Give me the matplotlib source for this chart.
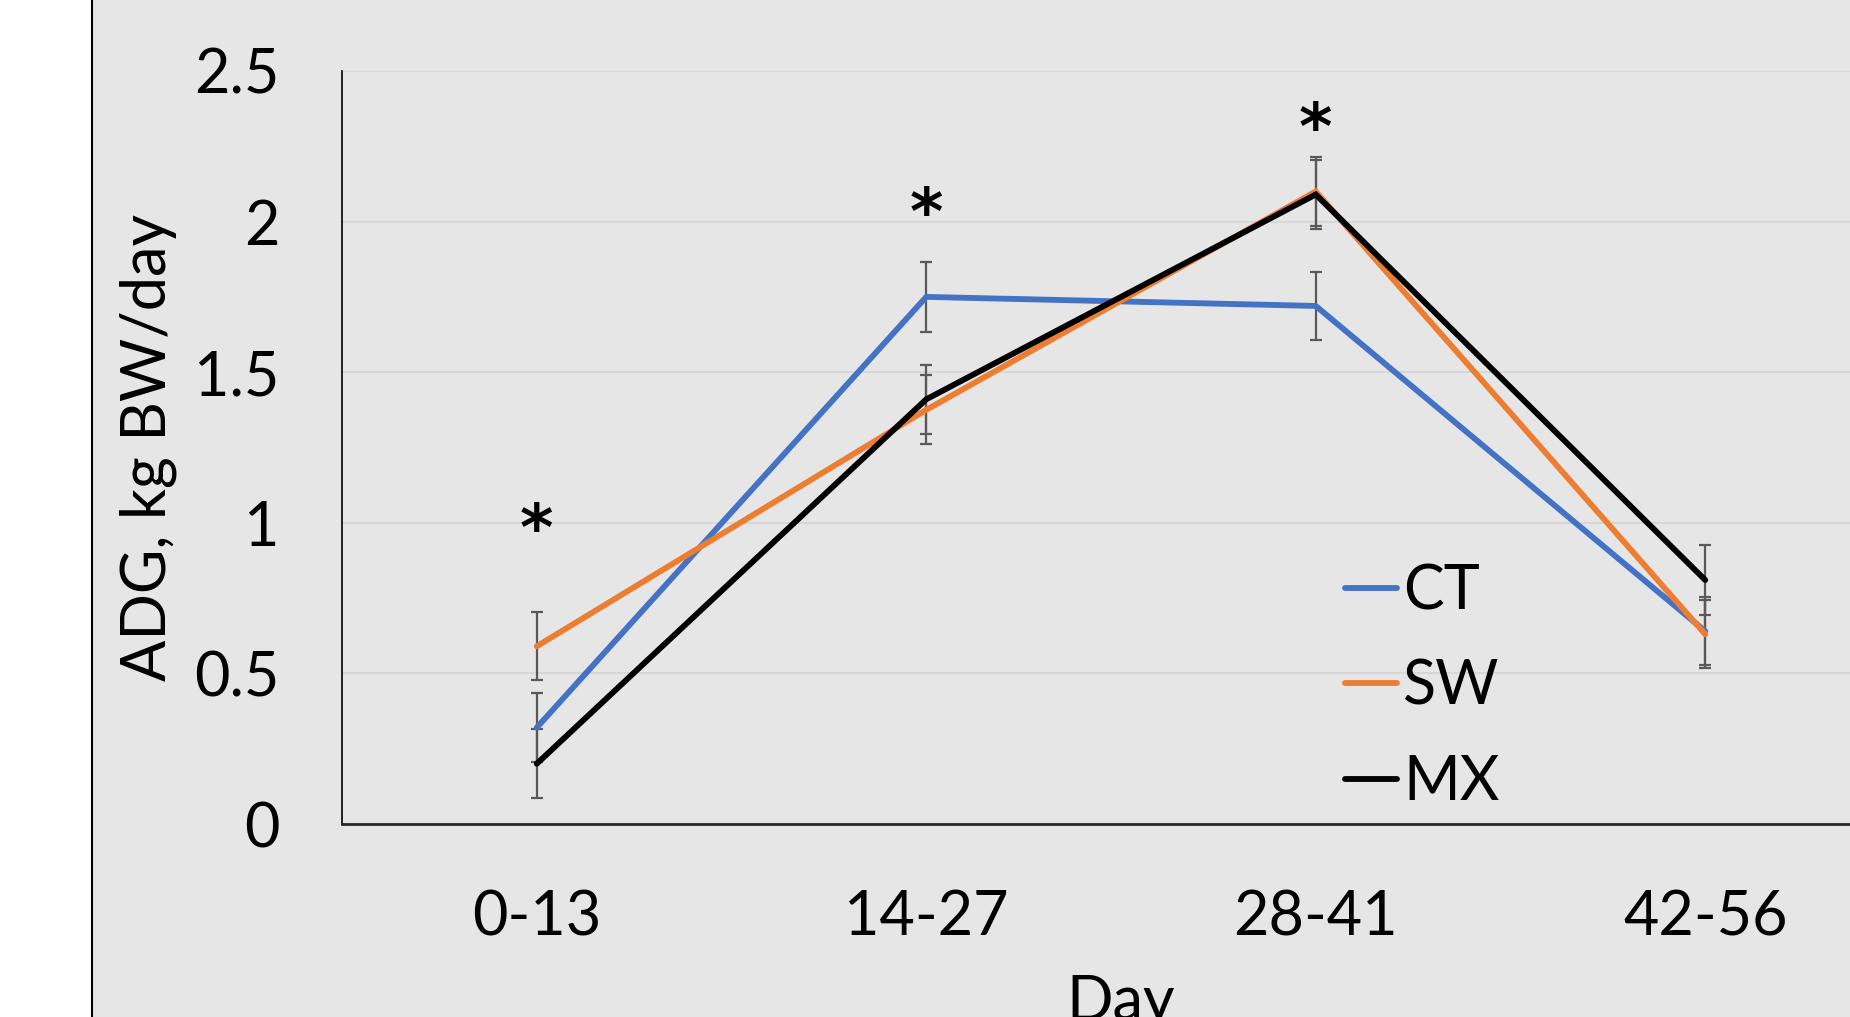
import numpy as np
import matplotlib
matplotlib.use("Agg")
import matplotlib.pyplot as plt
from matplotlib.patches import Rectangle
from matplotlib.lines import Line2D

days = ['0-13', '14-27', '28-41', '42-56']
ct = [0.32, 1.75, 1.72, 0.64]
sw = [0.59, 1.375, 2.10, 0.63]
mx = [0.20, 1.41, 2.09, 0.81]
ct_err = [0.115, 0.115, 0.113, 0.113]
sw_err = [0.113, 0.115, 0.113, 0.113]
mx_err = [0.115, 0.115, 0.113, 0.115]

star_days = ['0-13', '14-27', '28-41']
star_y = [0.97, 2.02, 2.30]

BG = '#E6E6E6'
plt.rcParams['font.family'] = ['Lato', 'DejaVu Sans']

fig = plt.figure(figsize=(18.5, 10.17), dpi=100, facecolor='white')
fig.patches.append(Rectangle((93 / 1850, 0), 1, 1, transform=fig.transFigure,
                             facecolor=BG, edgecolor='none', zorder=-10))
fig.lines.append(Line2D([92 / 1850, 92 / 1850], [0, 1], transform=fig.transFigure,
                        color='black', lw=1.5, zorder=-9))

ax = fig.add_axes([342 / 1850, 1 - 824 / 1017, 1558 / 1850, 753 / 1017])
ax.set_facecolor('none')

series = [('CT', ct, ct_err, '#4472C4'),
          ('SW', sw, sw_err, '#ED7D31'),
          ('MX', mx, mx_err, '#000000')]

for name, vals, err, col in series:
    ax.errorbar(days, vals, yerr=err, fmt='none', ecolor='#595959',
                elinewidth=1.6, capsize=4.5, capthick=1.6, zorder=2)
for name, vals, err, col in series:
    ax.plot(days, vals, color=col, lw=4.2, label=name, zorder=3,
            solid_capstyle='round', solid_joinstyle='miter')

for d, y in zip(star_days, star_y):
    ax.text(d, y, '*', ha='center', va='center', fontsize=46,
            fontweight='bold', family='DejaVu Sans', zorder=4)

ax.set_xlim(-0.5, 3.5)
ax.set_ylim(0, 2.5)
ax.set_yticks([0, 0.5, 1, 1.5, 2, 2.5])
ax.set_yticklabels(['0', '0.5', '1', '1.5', '2', '2.5'])
ax.yaxis.grid(True, color='#D4D4D4', lw=1.2)
ax.set_axisbelow(True)
ax.tick_params(axis='both', length=0, labelsize=44)
ax.tick_params(axis='y', pad=45)
ax.tick_params(axis='x', pad=47)

for s in ['top', 'right']:
    ax.spines[s].set_visible(False)
ax.spines['left'].set_color('black')
ax.spines['left'].set_linewidth(1.2)
ax.spines['bottom'].set_color('#262626')
ax.spines['bottom'].set_linewidth(2)

ax.set_xlabel('Day', fontsize=44, labelpad=20)
ax.set_ylabel('ADG, kg BW/day', fontsize=44, labelpad=12)

ax.legend(loc='upper left', bbox_to_anchor=((1345 - 342) / 1558, (824 - 563) / 753),
          frameon=False, fontsize=44, handlelength=0.85, handletextpad=0.1,
          labelspacing=0.63, borderaxespad=0, borderpad=0)

fig.savefig('out.png', dpi=100, facecolor='white')
